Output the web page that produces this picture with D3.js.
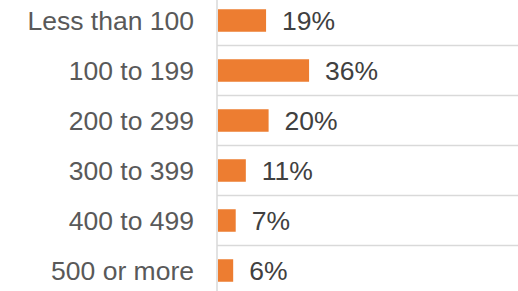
<!DOCTYPE html>
<html>
<head>
<meta charset="utf-8">
<script src="https://cdn.jsdelivr.net/npm/d3@7"></script>
<style>
  body { margin: 0; background: #fff; }
  svg { display: block; font-family: "Liberation Sans", Arial, sans-serif; }
</style>
</head>
<body>
<script>
// data
var categories = ['Less than 100', '100 to 199', '200 to 299', '300 to 399', '400 to 499', '500 or more'];
var shares = [19, 36, 20, 11, 7, 6];

var width = 518, height = 291;
var axisX = 217;

var svg = d3.select('body').append('svg')
  .attr('width', width)
  .attr('height', height);

// bands run a bit past the top and bottom of the picture (the chart was cropped)
var y = d3.scaleBand()
  .domain(categories)
  .range([-4.5, 295.5])
  .paddingInner(0.55)
  .paddingOuter(0.275);

var x = d3.scaleLinear()
  .domain([0, 100])
  .range([axisX + 1, axisX + 1 + 253]);

var step = y.step();

// horizontal separators between categories
svg.append('g').attr('class', 'yGrids')
  .selectAll('line')
  .data(categories.slice(0, -1))
  .enter().append('line')
  .attr('x1', axisX)
  .attr('x2', width)
  .attr('y1', d => y(d) + y.bandwidth() / 2 + step / 2)
  .attr('y2', d => y(d) + y.bandwidth() / 2 + step / 2)
  .attr('stroke', '#d9d9d9')
  .attr('stroke-width', 1.5);

// vertical axis line
svg.append('line')
  .attr('x1', axisX).attr('x2', axisX)
  .attr('y1', 0).attr('y2', height)
  .attr('stroke', '#d9d9d9')
  .attr('stroke-width', 1.5);

var rows = categories.map((c, i) => ({ cat: c, val: shares[i] }));

svg.append('g').attr('class', 'bars')
  .selectAll('rect')
  .data(rows)
  .enter().append('rect')
  .attr('x', x(0))
  .attr('y', d => y(d.cat))
  .attr('width', d => x(d.val) - x(0))
  .attr('height', y.bandwidth())
  .attr('fill', '#ed7d31');

// category labels
svg.append('g').attr('class', 'yAxis')
  .selectAll('text')
  .data(rows)
  .enter().append('text')
  .attr('x', 194)
  .attr('y', d => y(d.cat) + y.bandwidth() / 2 + 9)
  .attr('text-anchor', 'end')
  .attr('font-size', 26.5)
  .attr('fill', '#595959')
  .text(d => d.cat);

// value labels
svg.append('g').attr('class', 'labels')
  .selectAll('text')
  .data(rows)
  .enter().append('text')
  .attr('x', d => x(d.val) + 16)
  .attr('y', d => y(d.cat) + y.bandwidth() / 2 + 9)
  .attr('font-size', 26.5)
  .attr('fill', '#404040')
  .text(d => d.val + '%');
</script>
</body>
</html>
